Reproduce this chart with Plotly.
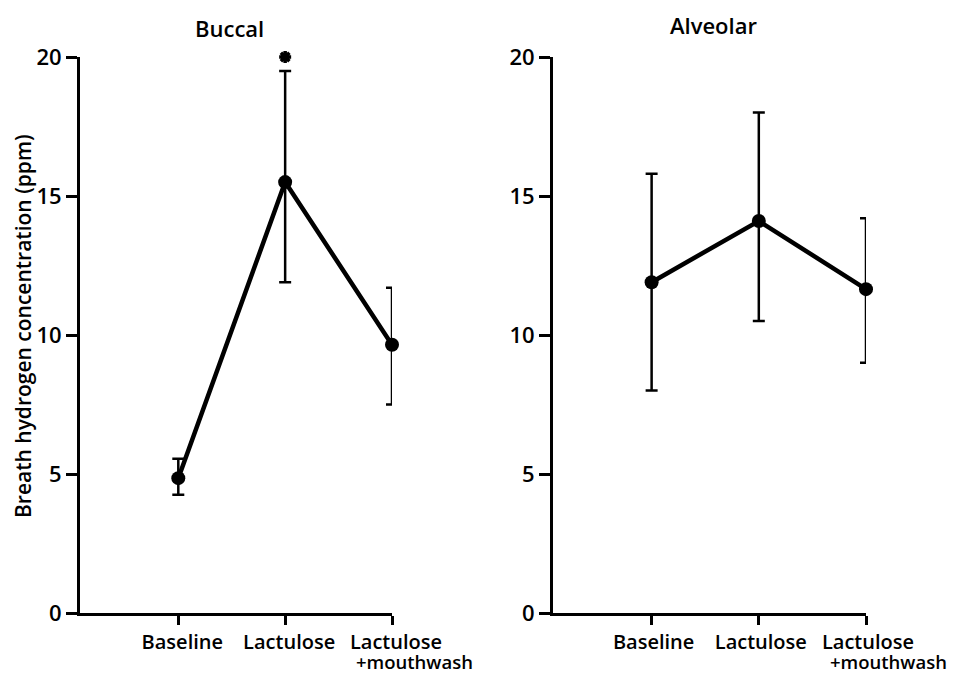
import plotly.graph_objects as go

categories = ["Baseline", "Lactulose", "Lactulose"]
category_sub = ["", "", "+mouthwash"]
x_pos = [1, 2, 3]

buccal_mean = [4.85, 15.5, 9.65]
buccal_upper = [5.55, 19.5, 11.7]
buccal_lower = [4.25, 11.9, 7.5]

alveolar_mean = [11.9, 14.1, 11.65]
alveolar_upper = [15.8, 18.0, 14.2]
alveolar_lower = [8.0, 10.5, 9.0]

sig_x = [2]
sig_y = [20]

panel_titles = ["Buccal", "Alveolar"]
y_ticks = [0, 5, 10, 15, 20]
y_title = "Breath hydrogen concentration (ppm)"

FONT = "Open Sans"
W, H = 961, 673
MT, MB = 57, 60

fig = go.Figure()

def add_panel(mean, upper, lower, xa, ya):
    fig.add_trace(go.Scatter(
        x=x_pos, y=mean, mode="lines+markers",
        xaxis=xa, yaxis=ya,
        line=dict(color="black", width=4.5),
        marker=dict(color="black", size=14),
        error_y=dict(type="data", symmetric=False,
                     array=[u - m for u, m in zip(upper, mean)],
                     arrayminus=[m - l for m, l in zip(mean, lower)],
                     color="black", thickness=2.5, width=6),
        cliponaxis=False, showlegend=False, hoverinfo="skip"))

add_panel(buccal_mean, buccal_upper, buccal_lower, "x", "y")
add_panel(alveolar_mean, alveolar_upper, alveolar_lower, "x2", "y2")

fig.add_trace(go.Scatter(
    x=sig_x, y=sig_y, mode="markers", xaxis="x", yaxis="y",
    marker=dict(symbol="asterisk-open", size=10, color="black",
                line=dict(color="black", width=3.5)),
    cliponaxis=False, showlegend=False, hoverinfo="skip"))

axis_common = dict(showline=True, linecolor="black", linewidth=3,
                   ticks="outside", tickcolor="black", tickwidth=3,
                   showgrid=False, zeroline=False, automargin=False)

xaxis_common = dict(axis_common, range=[0.08, 3.0], tickvals=x_pos,
                    ticktext=categories, ticklen=9, tickangle=0,
                    ticklabelstandoff=0,
                    tickfont=dict(family=FONT, size=20, color="black", weight=600))
yaxis_common = dict(axis_common, range=[0, 20], tickvals=y_ticks,
                    ticktext=[str(v) for v in y_ticks], ticklen=11,
                    tickfont=dict(family=FONT, size=22, color="black", weight=600))

fig.update_layout(
    width=W, height=H,
    margin=dict(l=0, r=0, t=MT, b=MB, autoexpand=False),
    paper_bgcolor="white", plot_bgcolor="white",
    xaxis=dict(xaxis_common, domain=[80 / W, 392 / W], anchor="y", ticklabelshift=4),
    yaxis=dict(yaxis_common, domain=[0, 1], anchor="x"),
    xaxis2=dict(xaxis_common, domain=[553 / W, 866 / W], anchor="y2", ticklabelshift=2),
    yaxis2=dict(yaxis_common, domain=[0, 1], anchor="x2"),
)

plot_h = H - MT - MB
def py(pixel_y):
    return (H - MB - pixel_y) / plot_h

label_font = dict(family=FONT, size=18.5, color="black", weight=600)
for xref in ["x", "x2"]:
    for xv, sub in zip(x_pos, category_sub):
        if sub:
            fig.add_annotation(text=sub, x=xv, y=py(661), xref=xref, yref="paper",
                               showarrow=False, xanchor="left", yanchor="middle",
                               xshift=-38, font=label_font)

title_font = dict(family=FONT, size=22, color="black", weight=600)
fig.add_annotation(text=panel_titles[0], x=229 / W, y=py(28), xref="paper", yref="paper",
                   showarrow=False, xanchor="center", yanchor="middle", font=title_font)
fig.add_annotation(text=panel_titles[1], x=713 / W, y=py(25), xref="paper", yref="paper",
                   showarrow=False, xanchor="center", yanchor="middle", font=title_font)
fig.add_annotation(text=y_title, x=23 / W, y=py(326), xref="paper", yref="paper",
                   showarrow=False, textangle=-90, xanchor="center", yanchor="middle",
                   font=dict(family=FONT, size=21, color="black", weight=600))

fig.write_html("out.html")
